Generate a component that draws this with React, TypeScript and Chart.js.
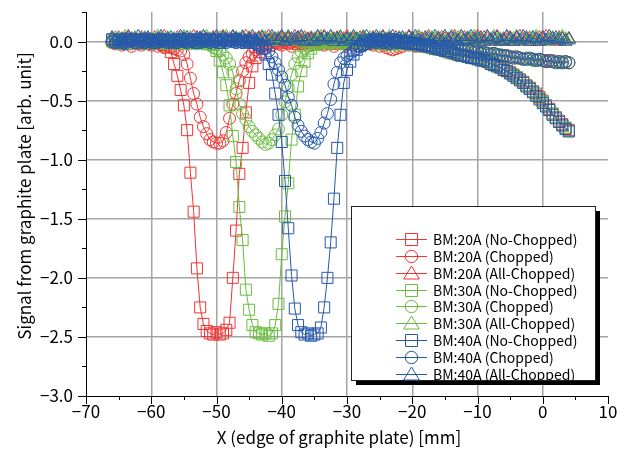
import React, { useEffect, useRef } from 'react';
import { Chart, registerables } from 'chart.js';
Chart.register(...registerables);

const FONT = '"Noto Sans CJK JP", "Noto Sans", sans-serif';

// shared x positions [mm]
const X = [
  -66, -65.5, -65, -64.5, -64, -63.5, -63, -62.5, -62, -61.5,
  -61, -60.5, -60, -59.5, -59, -58.5, -58, -57.5, -57, -56.5,
  -56, -55.5, -55, -54.5, -54, -53.5, -53, -52.5, -52, -51.5,
  -51, -50.5, -50, -49.5, -49, -48.5, -48, -47.5, -47, -46.5,
  -46, -45.5, -45, -44.5, -44, -43.5, -43, -42.5, -42, -41.5,
  -41, -40.5, -40, -39.5, -39, -38.5, -38, -37.5, -37, -36.5,
  -36, -35.5, -35, -34.5, -34, -33.5, -33, -32.5, -32, -31.5,
  -31, -30.5, -30, -29.5, -29, -28.5, -28, -27.5, -27, -26.5,
  -26, -25.5, -25, -24.5, -24, -23.5, -23, -22.5, -22, -21.5,
  -21, -20.5, -20, -19.5, -19, -18.5, -18, -17.5, -17, -16.5,
  -16, -15.5, -15, -14.5, -14, -13.5, -13, -12.5, -12, -11.5,
  -11, -10.5, -10, -9.5, -9, -8.5, -8, -7.5, -7, -6.5,
  -6, -5.5, -5, -4.5, -4, -3.5, -3, -2.5, -2, -1.5,
  -1, -0.5, 0, 0.5, 1, 1.5, 2, 2.5, 3, 3.5,
  4,
];

const BM20_NO = [
  0.01, -0.01, 0.02, 0.00, -0.02, 0.01, 0.00, 0.02, -0.01, 0.00,
  0.01, -0.02, 0.00, 0.01, -0.01, -0.02, -0.03, -0.05, -0.09, -0.19,
  -0.29, -0.41, -0.54, -0.75, -1.11, -1.44, -1.92, -2.25, -2.39, -2.45,
  -2.47, -2.48, -2.46, -2.48, -2.47, -2.44, -2.38, -2.00, -1.60, -1.12,
  -0.90, -0.60, -0.35, -0.21, -0.14, -0.09, -0.05, -0.03, -0.01, 0.00,
  0.01, -0.01, 0.00, 0.02, -0.01, 0.00, 0.01, -0.02, 0.00, 0.01,
  -0.01, 0.00, 0.02, 0.00, -0.01, 0.01, 0.00, -0.02, 0.01, 0.00,
  0.01, -0.01, 0.00, 0.02, 0.00, -0.01, 0.01, 0.00, -0.02, 0.01,
  0.00, -0.01, 0.01, 0.00, -0.02, 0.00, 0.01, -0.01, 0.00, -0.01,
  -0.01, -0.02, -0.01, -0.03, -0.02, -0.03, -0.04, -0.04, -0.05, -0.06,
  -0.06, -0.07, -0.08, -0.09, -0.09, -0.10, -0.11, -0.11, -0.12, -0.13,
  -0.13, -0.14, -0.14, -0.15, -0.16, -0.17, -0.18, -0.19, -0.20, -0.22,
  -0.23, -0.25, -0.26, -0.28, -0.30, -0.32, -0.34, -0.37, -0.39, -0.42,
  -0.44, -0.47, -0.50, -0.54, -0.57, -0.61, -0.64, -0.67, -0.70, -0.73,
  -0.75,
];

const BM20_CH = [
  -0.01, -0.02, 0.00, -0.03, -0.01, -0.02, -0.04, -0.01, -0.02, -0.03,
  -0.01, -0.02, -0.03, -0.02, -0.04, -0.03, -0.05, -0.04, -0.05, -0.06,
  -0.07, -0.08, -0.11, -0.19, -0.31, -0.44, -0.53, -0.64, -0.72, -0.78,
  -0.83, -0.85, -0.86, -0.86, -0.84, -0.77, -0.65, -0.53, -0.44, -0.33,
  -0.25, -0.18, -0.13, -0.10, -0.07, -0.05, -0.04, -0.03, -0.02, -0.03,
  -0.01, -0.02, -0.03, -0.01, -0.02, -0.04, -0.02, -0.01, -0.03, -0.02,
  -0.01, -0.03, -0.02, -0.01, -0.02, -0.03, -0.01, -0.02, -0.04, -0.02,
  -0.01, -0.02, -0.03, -0.01, -0.02, -0.04, -0.02, -0.03, -0.01, -0.02,
  -0.03, -0.02, -0.04, -0.03, -0.05, -0.06, -0.07, -0.06, -0.05, -0.04,
  -0.02, -0.03, -0.02, -0.04, -0.03, -0.03, -0.04, -0.03, -0.04, -0.05,
  -0.04, -0.05, -0.05, -0.06, -0.06, -0.07, -0.07, -0.06, -0.07, -0.08,
  -0.08, -0.09, -0.08, -0.09, -0.10, -0.10, -0.11, -0.10, -0.11, -0.12,
  -0.12, -0.12, -0.13, -0.13, -0.14, -0.14, -0.15, -0.14, -0.15, -0.15,
  -0.16, -0.15, -0.16, -0.16, -0.17, -0.16, -0.17, -0.17, -0.18, -0.17,
  -0.18,
];

const BM20_ALL = [
  0.02, 0.00, 0.03, 0.01, 0.02, 0.04, 0.00, 0.02, 0.01, 0.03,
  0.01, 0.02, 0.00, 0.03, 0.01, 0.02, 0.04, 0.01, 0.00, 0.02,
  0.03, 0.01, 0.02, 0.00, 0.02, 0.04, 0.01, 0.03, 0.00, 0.02,
  0.01, 0.03, 0.02, 0.00, 0.04, 0.01, 0.02, 0.03, 0.01, 0.00,
  0.02, 0.04, 0.01, 0.02, 0.00, 0.03, 0.01, 0.02, 0.04, 0.01,
  0.00, 0.02, 0.03, 0.01, 0.02, 0.00, 0.04, 0.02, 0.01, 0.03,
  0.02, 0.00, 0.01, 0.03, 0.02, 0.04, 0.01, 0.00, 0.02, 0.03,
  0.01, 0.02, 0.04, 0.00, 0.02, 0.01, 0.03, 0.02, 0.00, 0.01,
  0.03, 0.01, 0.02, 0.04, 0.00, 0.02, 0.01, 0.03, 0.02, 0.00,
  0.02, 0.04, 0.01, 0.00, 0.03, 0.02, 0.01, 0.04, 0.02, 0.00,
  0.01, 0.03, 0.02, 0.00, 0.02, 0.04, 0.01, 0.02, 0.03, 0.01,
  0.00, 0.02, 0.04, 0.01, 0.03, 0.02, 0.00, 0.02, 0.04, 0.01,
  0.02, 0.01, 0.03, 0.00, 0.02, 0.04, 0.01, 0.03, 0.02, 0.00,
  0.01, 0.03, 0.02, 0.04, 0.01, 0.02, 0.00, 0.03, 0.02, 0.01,
  0.02,
];

const BM30_NO = [
  0.00, 0.02, -0.01, 0.01, 0.00, -0.02, 0.01, 0.00, 0.02, -0.01,
  0.00, 0.01, -0.01, 0.00, 0.02, 0.00, -0.01, 0.01, 0.00, -0.01,
  0.01, 0.00, -0.02, 0.00, 0.01, -0.01, 0.00, -0.01, 0.00, -0.02,
  -0.02, -0.03, -0.08, -0.16, -0.26, -0.37, -0.54, -0.80, -1.02, -1.40,
  -1.68, -2.10, -2.27, -2.40, -2.46, -2.47, -2.48, -2.47, -2.49, -2.47,
  -2.40, -2.22, -1.80, -1.48, -1.20, -0.83, -0.62, -0.38, -0.25, -0.17,
  -0.10, -0.06, -0.03, -0.01, 0.00, 0.01, -0.01, 0.00, 0.02, 0.00,
  -0.01, 0.01, 0.00, -0.02, 0.01, 0.00, 0.01, -0.01, 0.00, 0.02,
  0.00, -0.01, 0.01, 0.00, -0.01, 0.02, 0.00, -0.02, 0.01, 0.00,
  -0.01, -0.02, -0.01, -0.02, -0.03, -0.03, -0.04, -0.05, -0.05, -0.06,
  -0.07, -0.07, -0.08, -0.09, -0.10, -0.10, -0.11, -0.12, -0.12, -0.13,
  -0.13, -0.14, -0.15, -0.15, -0.16, -0.17, -0.18, -0.20, -0.21, -0.22,
  -0.24, -0.25, -0.27, -0.28, -0.30, -0.32, -0.35, -0.37, -0.40, -0.42,
  -0.45, -0.48, -0.51, -0.54, -0.58, -0.61, -0.64, -0.68, -0.71, -0.73,
  -0.76,
];

const BM30_CH = [
  -0.01, 0.00, -0.02, 0.01, -0.01, 0.00, -0.02, -0.01, 0.00, -0.01,
  -0.02, 0.00, -0.01, -0.02, 0.00, -0.01, -0.02, -0.01, 0.00, -0.02,
  -0.01, -0.02, 0.00, -0.01, -0.02, -0.01, -0.02, -0.01, -0.02, -0.02,
  -0.03, -0.05, -0.06, -0.08, -0.11, -0.14, -0.19, -0.26, -0.40, -0.53,
  -0.61, -0.66, -0.72, -0.76, -0.79, -0.82, -0.85, -0.87, -0.86, -0.83,
  -0.79, -0.74, -0.62, -0.51, -0.39, -0.28, -0.19, -0.13, -0.09, -0.06,
  -0.04, -0.03, -0.02, -0.01, -0.02, 0.00, -0.01, -0.02, -0.01, 0.00,
  -0.02, -0.01, 0.00, -0.02, -0.01, -0.02, 0.00, -0.01, -0.02, -0.01,
  0.00, -0.02, -0.01, -0.02, -0.03, -0.02, -0.01, -0.03, -0.02, -0.01,
  -0.02, -0.03, -0.02, -0.03, -0.04, -0.03, -0.04, -0.04, -0.05, -0.04,
  -0.05, -0.05, -0.06, -0.06, -0.07, -0.06, -0.07, -0.08, -0.07, -0.08,
  -0.09, -0.08, -0.09, -0.10, -0.10, -0.11, -0.10, -0.11, -0.12, -0.11,
  -0.12, -0.13, -0.13, -0.14, -0.13, -0.14, -0.15, -0.14, -0.15, -0.16,
  -0.15, -0.16, -0.16, -0.17, -0.16, -0.17, -0.17, -0.18, -0.17, -0.18,
  -0.18,
];

const BM30_ALL = [
  0.01, 0.03, 0.02, 0.00, 0.04, 0.02, 0.01, 0.03, 0.00, 0.02,
  0.03, 0.00, 0.02, 0.01, 0.04, 0.02, 0.00, 0.03, 0.01, 0.02,
  0.00, 0.02, 0.04, 0.01, 0.03, 0.00, 0.02, 0.01, 0.03, 0.04,
  0.02, 0.00, 0.01, 0.03, 0.02, 0.04, 0.00, 0.01, 0.03, 0.02,
  0.04, 0.01, 0.03, 0.00, 0.02, 0.01, 0.04, 0.03, 0.00, 0.02,
  0.01, 0.03, 0.00, 0.02, 0.04, 0.01, 0.02, 0.00, 0.03, 0.02,
  0.00, 0.03, 0.02, 0.01, 0.04, 0.00, 0.02, 0.03, 0.01, 0.02,
  0.04, 0.01, 0.00, 0.02, 0.03, 0.01, 0.02, 0.04, 0.01, 0.03,
  0.00, 0.02, 0.03, 0.01, 0.02, 0.04, 0.00, 0.01, 0.03, 0.02,
  0.01, 0.00, 0.03, 0.02, 0.04, 0.01, 0.02, 0.00, 0.03, 0.02,
  0.03, 0.01, 0.00, 0.02, 0.04, 0.01, 0.03, 0.02, 0.00, 0.03,
  0.02, 0.04, 0.01, 0.02, 0.00, 0.03, 0.02, 0.04, 0.01, 0.02,
  0.00, 0.03, 0.01, 0.02, 0.04, 0.00, 0.02, 0.01, 0.03, 0.02,
  0.04, 0.01, 0.03, 0.00, 0.02, 0.03, 0.01, 0.02, 0.04, 0.02,
  0.01,
];

const BM40_NO = [
  0.02, 0.00, 0.01, -0.01, 0.02, 0.00, 0.01, 0.02, -0.01, 0.01,
  0.00, 0.02, 0.01, -0.01, 0.00, 0.02, 0.01, 0.00, 0.01, -0.01,
  0.02, 0.00, 0.01, 0.02, 0.00, 0.01, -0.01, 0.02, 0.00, 0.01,
  0.02, 0.00, 0.01, -0.01, 0.02, 0.01, 0.00, 0.01, 0.02, 0.00,
  0.01, -0.01, 0.00, 0.01, -0.01, -0.03, -0.06, -0.11, -0.19, -0.28,
  -0.44, -0.62, -0.85, -1.18, -1.58, -1.98, -2.26, -2.40, -2.46, -2.48,
  -2.47, -2.49, -2.48, -2.47, -2.42, -2.25, -2.00, -1.70, -1.33, -0.90,
  -0.62, -0.35, -0.24, -0.17, -0.11, -0.07, -0.04, -0.02, 0.00, 0.01,
  0.00, 0.02, 0.01, 0.00, -0.01, 0.01, 0.02, 0.00, 0.01, -0.01,
  0.00, -0.01, -0.02, -0.01, -0.02, -0.03, -0.04, -0.03, -0.05, -0.06,
  -0.06, -0.07, -0.08, -0.08, -0.09, -0.10, -0.11, -0.12, -0.12, -0.13,
  -0.14, -0.14, -0.15, -0.16, -0.16, -0.17, -0.19, -0.20, -0.21, -0.22,
  -0.24, -0.25, -0.27, -0.29, -0.31, -0.33, -0.35, -0.38, -0.40, -0.43,
  -0.46, -0.49, -0.52, -0.55, -0.58, -0.62, -0.65, -0.68, -0.71, -0.74,
  -0.76,
];

const BM40_CH = [
  0.00, -0.01, 0.01, 0.00, -0.02, 0.00, 0.01, -0.01, 0.00, 0.01,
  -0.01, 0.00, 0.01, -0.01, 0.00, 0.01, 0.00, -0.01, 0.01, 0.00,
  -0.01, 0.01, 0.00, -0.01, 0.00, 0.01, -0.01, 0.00, 0.01, 0.00,
  -0.01, 0.00, 0.01, -0.01, 0.00, -0.01, 0.01, 0.00, -0.01, 0.00,
  -0.01, 0.00, -0.01, -0.01, -0.02, -0.03, -0.04, -0.06, -0.08, -0.13,
  -0.18, -0.24, -0.30, -0.37, -0.47, -0.54, -0.64, -0.71, -0.76, -0.80,
  -0.83, -0.85, -0.86, -0.82, -0.77, -0.69, -0.61, -0.49, -0.36, -0.26,
  -0.18, -0.14, -0.12, -0.10, -0.08, -0.06, -0.04, -0.03, -0.02, -0.01,
  0.00, -0.01, 0.01, -0.01, 0.00, -0.02, 0.00, -0.01, 0.00, -0.01,
  -0.02, -0.01, -0.02, -0.03, -0.02, -0.03, -0.04, -0.03, -0.04, -0.05,
  -0.04, -0.05, -0.06, -0.05, -0.06, -0.07, -0.06, -0.07, -0.08, -0.07,
  -0.08, -0.09, -0.09, -0.10, -0.09, -0.10, -0.11, -0.10, -0.11, -0.12,
  -0.12, -0.12, -0.13, -0.14, -0.13, -0.14, -0.15, -0.15, -0.14, -0.15,
  -0.16, -0.15, -0.16, -0.17, -0.16, -0.17, -0.18, -0.17, -0.18, -0.17,
  -0.18,
];

const BM40_ALL = [
  0.03, 0.01, 0.00, 0.02, 0.01, 0.03, 0.02, 0.00, 0.04, 0.01,
  0.02, 0.03, 0.01, 0.00, 0.02, 0.04, 0.01, 0.02, 0.03, 0.00,
  0.01, 0.04, 0.02, 0.03, 0.00, 0.01, 0.03, 0.02, 0.04, 0.01,
  0.00, 0.02, 0.04, 0.01, 0.03, 0.02, 0.00, 0.04, 0.02, 0.01,
  0.03, 0.00, 0.02, 0.04, 0.01, 0.02, 0.03, 0.00, 0.01, 0.04,
  0.02, 0.01, 0.04, 0.00, 0.03, 0.02, 0.01, 0.03, 0.04, 0.00,
  0.01, 0.02, 0.00, 0.04, 0.01, 0.03, 0.02, 0.04, 0.00, 0.02,
  0.03, 0.00, 0.02, 0.01, 0.04, 0.02, 0.00, 0.03, 0.04, 0.01,
  0.02, 0.04, 0.00, 0.03, 0.01, 0.02, 0.04, 0.00, 0.02, 0.03,
  0.00, 0.03, 0.02, 0.04, 0.01, 0.00, 0.03, 0.02, 0.01, 0.04,
  0.02, 0.00, 0.04, 0.01, 0.03, 0.02, 0.00, 0.04, 0.01, 0.02,
  0.04, 0.01, 0.02, 0.03, 0.00, 0.04, 0.01, 0.02, 0.03, 0.00,
  0.01, 0.04, 0.02, 0.00, 0.03, 0.01, 0.04, 0.02, 0.00, 0.03,
  0.02, 0.00, 0.03, 0.01, 0.04, 0.02, 0.03, 0.01, 0.02, 0.00,
  0.02,
];

const RED = '#f03434';
const GREEN = '#6abd3e';
const BLUE = '#2658ac';

const LABELS = [
  'BM:20A (No-Chopped)', 'BM:20A (Chopped)', 'BM:20A (All-Chopped)',
  'BM:30A (No-Chopped)', 'BM:30A (Chopped)', 'BM:30A (All-Chopped)',
  'BM:40A (No-Chopped)', 'BM:40A (Chopped)', 'BM:40A (All-Chopped)',
];
const VALUES = [BM20_NO, BM20_CH, BM20_ALL, BM30_NO, BM30_CH, BM30_ALL, BM40_NO, BM40_CH, BM40_ALL];
const COLORS = [RED, RED, RED, GREEN, GREEN, GREEN, BLUE, BLUE, BLUE];
const SHAPES = ['rect', 'circle', 'triangle', 'rect', 'circle', 'triangle', 'rect', 'circle', 'triangle'];
const RADII = { rect: 7.8, circle: 6, triangle: 7.5 } as Record<string, number>;

const X_TITLE = 'X (edge of graphite plate) [mm]';
const Y_TITLE = 'Signal from graphite plate [arb. unit]';

const fmt = (v: number, d: number) => {
  const s = Math.abs(v).toFixed(d);
  return v < -1e-9 ? '\u2212' + s : s;
};

function drawMarker(ctx: CanvasRenderingContext2D, shape: string, x: number, y: number) {
  ctx.beginPath();
  if (shape === 'rect') {
    ctx.rect(x - 6, y - 6, 12, 12);
  } else if (shape === 'circle') {
    ctx.arc(x, y, 6.2, 0, Math.PI * 2);
  } else {
    ctx.moveTo(x, y - 7.5);
    ctx.lineTo(x + 7.8, y + 5.5);
    ctx.lineTo(x - 7.8, y + 5.5);
    ctx.closePath();
  }
  ctx.stroke();
}

const decorPlugin = {
  id: 'decor',
  afterDraw(chart: any) {
    const ctx: CanvasRenderingContext2D = chart.ctx;
    const xs = chart.scales.x;
    const ys = chart.scales.y;
    const { bottom, left } = chart.chartArea;
    ctx.save();
    // tick marks (major + minor), pointing outward
    ctx.strokeStyle = '#000';
    ctx.lineWidth = 1;
    ctx.beginPath();
    for (let v = -70; v <= 10.001; v += 5) {
      const px = Math.round(xs.getPixelForValue(v)) + 0.5;
      const len = Math.abs(v % 10) < 1e-6 ? 8 : 4;
      ctx.moveTo(px, bottom);
      ctx.lineTo(px, bottom + len);
    }
    for (let v = -3; v <= 0.2501; v += 0.25) {
      const py = Math.round(ys.getPixelForValue(v)) + 0.5;
      const major = Math.abs(Math.round(v * 2) - v * 2) < 1e-6;
      ctx.moveTo(left, py);
      ctx.lineTo(left - (major ? 8 : 4), py);
    }
    ctx.stroke();

    // axis titles
    ctx.fillStyle = '#000';
    ctx.font = `17px ${FONT}`;
    ctx.textAlign = 'center';
    ctx.textBaseline = 'middle';
    ctx.fillText(X_TITLE, 339, 438);
    ctx.save();
    ctx.translate(25, 196);
    ctx.rotate(-Math.PI / 2);
    ctx.fillText(Y_TITLE, 0, 0);
    ctx.restore();

    // legend box with shadow
    const bx = 351, by = 206, bw = 244, bh = 174;
    ctx.fillStyle = '#000';
    ctx.fillRect(bx + 5, by + 5, bw, bh);
    ctx.fillStyle = '#fff';
    ctx.fillRect(bx, by, bw, bh);
    ctx.strokeStyle = '#222';
    ctx.strokeRect(bx + 0.5, by + 0.5, bw, bh);

    ctx.font = `14px ${FONT}`;
    ctx.textAlign = 'left';
    ctx.textBaseline = 'middle';
    chart.data.datasets.forEach((ds: any, i: number) => {
      const cy = Math.round(239 + i * 16.85) + 0.5;
      ctx.strokeStyle = COLORS[i];
      ctx.lineWidth = 1;
      ctx.beginPath();
      ctx.moveTo(396, cy);
      ctx.lineTo(427, cy);
      ctx.stroke();
      drawMarker(ctx, SHAPES[i], 411.5, cy);
      ctx.fillStyle = '#000';
      ctx.fillText(ds.label, 433, cy);
    });
    ctx.restore();
  },
};

export default function App() {
  const ref = useRef<HTMLCanvasElement>(null);
  useEffect(() => {
    const datasets = LABELS.map((label, i) => ({
      label,
      data: X.map((x, j) => ({ x, y: VALUES[i][j] })),
      borderColor: COLORS[i],
      backgroundColor: 'rgba(0,0,0,0)',
      pointBackgroundColor: 'rgba(0,0,0,0)',
      pointBorderColor: COLORS[i],
      pointStyle: SHAPES[i],
      pointRadius: RADII[SHAPES[i]],
      pointBorderWidth: 1,
      borderWidth: 1,
      showLine: true,
      tension: 0,
      order: LABELS.length - 1 - i,
    }));
    const chart = new Chart(ref.current!, {
      type: 'scatter',
      data: { datasets },
      plugins: [decorPlugin],
      options: {
        responsive: false,
        animation: false,
        events: [],
        layout: { padding: { left: 0, right: 16, top: 12, bottom: 0 } },
        plugins: { legend: { display: false }, tooltip: { enabled: false } },
        scales: {
          x: {
            type: 'linear',
            min: -70,
            max: 10,
            afterFit: (s: any) => { s.height = 58; s.paddingLeft = 0; s.paddingRight = 0; },
            ticks: {
              stepSize: 10,
              padding: 5,
              color: '#000',
              font: { family: FONT, size: 17 },
              callback: (v: any) => fmt(Number(v), 0),
            },
            grid: {
              drawTicks: false,
              lineWidth: 1.5,
              color: (c: any) => (c.tick && (c.tick.value <= -70 || c.tick.value >= 10) ? 'rgba(0,0,0,0)' : '#a4a4a4'),
            },
            border: { display: true, color: '#000', width: 1 },
          },
          y: {
            type: 'linear',
            min: -3,
            max: 0.25,
            afterFit: (s: any) => { s.width = 86; s.paddingTop = 0; s.paddingBottom = 0; },
            afterBuildTicks: (s: any) => {
              s.ticks = [-3, -2.5, -2, -1.5, -1, -0.5, 0].map((value) => ({ value }));
            },
            ticks: {
              padding: 13,
              color: '#000',
              font: { family: FONT, size: 17 },
              callback: (v: any) => fmt(Number(v), 1),
            },
            grid: {
              drawTicks: false,
              lineWidth: 1.5,
              color: (c: any) => (c.tick && c.tick.value <= -3 ? 'rgba(0,0,0,0)' : '#a4a4a4'),
            },
            border: { display: true, color: '#000', width: 1 },
          },
        },
      } as any,
    });
    return () => chart.destroy();
  }, []);
  return (
    <div style={{ position: 'absolute', left: 0, top: 0, width: 624, height: 454, background: '#fff' }}>
      <canvas ref={ref} width={624} height={454} style={{ display: 'block' }} />
    </div>
  );
}
